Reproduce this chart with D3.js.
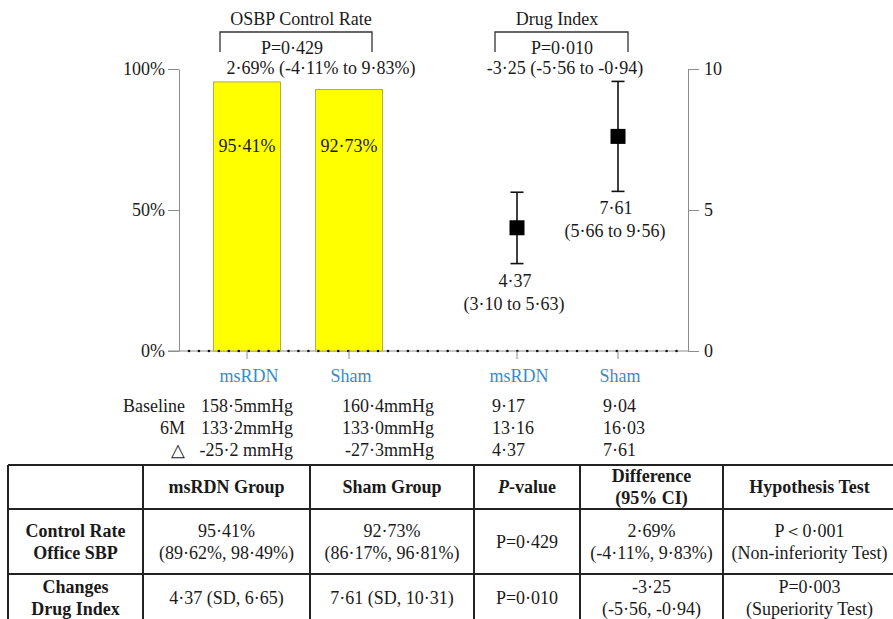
<!DOCTYPE html>
<html>
<head>
<meta charset="utf-8">
<script src="https://cdn.jsdelivr.net/npm/d3@7"></script>
<style>
  html, body { margin: 0; padding: 0; background: #fff; }
</style>
</head>
<body>
<svg id="chart" width="893" height="619"></svg>
<script>
// ---------------- DATA ----------------
const groups = ["msRDN", "Sham"];
const controlRate = [95.41, 92.73];               // % OSBP control rate
const controlRateLabels = ["95·41%", "92·73%"];
const drugMean = [4.37, 7.61];                    // change in drug index
const drugLow = [3.10, 5.66];
const drugHigh = [5.63, 9.56];
const drugMeanLabels = ["4·37", "7·61"];
const drugCILabels = ["(3·10 to 5·63)", "(5·66 to 9·56)"];
const leftTicks = [0, 50, 100];
const rightTicks = [0, 5, 10];

const panelTitles = ["OSBP Control Rate", "Drug Index"];
const panelP = ["P=0·429", "P=0·010"];
const panelDiff = ["2·69% (-4·11% to 9·83%)", "-3·25 (-5·56 to -0·94)"];

const summaryRowLabels = ["Baseline", "6M", "△"];
const sbpMsRDN = ["158·5mmHg", "133·2mmHg", "-25·2 mmHg"];
const sbpSham = ["160·4mmHg", "133·0mmHg", "-27·3mmHg"];
const drugMsRDN = ["9·17", "13·16", "4·37"];
const drugSham = ["9·04", "16·03", "7·61"];

const tableHeader = ["", "msRDN Group", "Sham Group", "P-value", "Difference\n(95% CI)", "Hypothesis Test"];
const tableRow1 = ["Control Rate\nOffice SBP", "95·41%\n(89·62%, 98·49%)", "92·73%\n(86·17%, 96·81%)", "P=0·429", "2·69%\n(-4·11%, 9·83%)", "P＜0·001\n(Non-inferiority Test)"];
const tableRow2 = ["Changes\nDrug Index", "4·37 (SD, 6·65)", "7·61 (SD, 10·31)", "P=0·010", "-3·25\n(-5·56, -0·94)", "P=0·003\n(Superiority Test)"];

// ---------------- LAYOUT ----------------
const FONT = '"Liberation Serif"';
const svg = d3.select("#chart").style("font-family", FONT);
const FS = 18;
const axisGray = "#8c8c8c";
const blue = "#3a8cc4";
const ink = "#1a1a1a";

const yTop = 69, yBot = 351;
const axLeftX = 179, axRightX = 688;

const yLeft = d3.scaleLinear().domain([0, 100]).range([yBot, yTop]);
const yRight = d3.scaleLinear().domain([0, 10]).range([yBot, yTop]);
const xBars = d3.scalePoint().domain(groups).range([247, 349]);
const xPts = d3.scalePoint().domain(groups).range([517, 618]);
const barW = 67;

function txt(sel) { return sel.style("font-family", FONT); }

// baseline (gray line with black dots)
svg.append("line").attr("x1", axLeftX - 11).attr("x2", axRightX)
  .attr("y1", yLeft(0)).attr("y2", yLeft(0))
  .attr("stroke", axisGray).attr("stroke-width", 1);

// bars
svg.selectAll("rect.bar").data(controlRate).join("rect")
  .attr("class", "bar")
  .attr("x", (d, i) => xBars(groups[i]) - barW / 2)
  .attr("width", barW)
  .attr("y", d => yLeft(d))
  .attr("height", d => yLeft(0) - yLeft(d))
  .attr("fill", "#ffff00")
  .attr("stroke", "#b5ac45").attr("stroke-width", 1);

svg.selectAll("text.barlab").data(controlRateLabels).join("text")
  .attr("class", "barlab")
  .attr("x", (d, i) => xBars(groups[i]))
  .attr("y", 152)
  .attr("text-anchor", "middle").attr("font-size", FS).attr("fill", ink)
  .style("font-family", FONT)
  .text(d => d);

// dots on baseline
const dotXs = d3.range(axLeftX + 10, axRightX - 2, 9.95);
svg.selectAll("circle.dot").data(dotXs).join("circle")
  .attr("class", "dot").attr("cx", d => d).attr("cy", yLeft(0))
  .attr("r", 1.3).attr("fill", "#111");

// left axis
const gL = svg.append("g").attr("transform", `translate(${axLeftX},0)`)
  .call(d3.axisLeft(yLeft).tickValues(leftTicks).tickSize(11).tickSizeOuter(0).tickFormat(d => d + "%"));
gL.attr("font-family", null).style("font-family", FONT);
gL.select(".domain").attr("stroke", axisGray);
gL.selectAll(".tick line").attr("stroke", axisGray);
gL.selectAll(".tick text").attr("font-size", FS).attr("fill", ink).attr("x", -14).style("font-family", FONT);

// right axis
const gR = svg.append("g").attr("transform", `translate(${axRightX},0)`)
  .call(d3.axisRight(yRight).tickValues(rightTicks).tickSize(11).tickSizeOuter(0));
gR.attr("font-family", null).style("font-family", FONT);
gR.select(".domain").attr("stroke", axisGray);
gR.selectAll(".tick line").attr("stroke", axisGray);
gR.selectAll(".tick text").attr("font-size", FS).attr("fill", ink).attr("x", 16).style("font-family", FONT);

// category ticks & labels
const catPos = groups.map(g => xBars(g)).concat(groups.map(g => xPts(g)));
const catNames = groups.concat(groups);
svg.selectAll("line.cattick").data(catPos).join("line")
  .attr("class", "cattick").attr("x1", d => d).attr("x2", d => d)
  .attr("y1", yBot).attr("y2", yBot + 8).attr("stroke", axisGray);
svg.selectAll("text.catlab").data(catNames).join("text")
  .attr("class", "catlab")
  .attr("x", (d, i) => catPos[i] + 2)
  .attr("y", 382)
  .attr("text-anchor", "middle").attr("font-size", FS).attr("fill", blue)
  .style("font-family", FONT)
  .text(d => d);

// error bars
const capW = 13;
groups.forEach((g, i) => {
  const x = xPts(g);
  const gg = svg.append("g").attr("stroke", "#111").attr("stroke-width", 1.6);
  gg.append("line").attr("x1", x).attr("x2", x).attr("y1", yRight(drugHigh[i])).attr("y2", yRight(drugLow[i]));
  gg.append("line").attr("x1", x - capW / 2).attr("x2", x + capW / 2).attr("y1", yRight(drugHigh[i])).attr("y2", yRight(drugHigh[i]));
  gg.append("line").attr("x1", x - capW / 2).attr("x2", x + capW / 2).attr("y1", yRight(drugLow[i])).attr("y2", yRight(drugLow[i]));
  svg.append("rect").attr("x", x - 7.5).attr("y", yRight(drugMean[i]) - 7.5)
    .attr("width", 15).attr("height", 15).attr("fill", "#000");
  txt(svg.append("text")).attr("x", x - 2).attr("y", yRight(drugLow[i]) + 23)
    .attr("text-anchor", "middle").attr("font-size", FS).attr("fill", ink).text(drugMeanLabels[i]);
  txt(svg.append("text")).attr("x", x - 3).attr("y", yRight(drugLow[i]) + 46)
    .attr("text-anchor", "middle").attr("font-size", FS).attr("fill", ink).text(drugCILabels[i]);
});

// panel titles with brackets
const panels = [
  { tx: 301, bl: xBars(groups[0]) - 27, br: xBars(groups[1]) + 23, px: 292, dx: 321 },
  { tx: 557, bl: xPts(groups[0]) - 22, br: xPts(groups[1]) + 10, px: 562, dx: 565 }
];
panels.forEach((p, i) => {
  txt(svg.append("text")).attr("x", p.tx).attr("y", 25).attr("text-anchor", "middle")
    .attr("font-size", FS).attr("fill", ink).text(panelTitles[i]);
  svg.append("path").attr("d", `M${p.bl},52V32H${p.br}V52`)
    .attr("fill", "none").attr("stroke", "#333").attr("stroke-width", 1.3);
  txt(svg.append("text")).attr("x", p.px).attr("y", 54).attr("text-anchor", "middle")
    .attr("font-size", FS).attr("fill", ink).text(panelP[i]);
  txt(svg.append("text")).attr("x", p.dx).attr("y", 74).attr("text-anchor", "middle")
    .attr("font-size", FS).attr("fill", ink).text(panelDiff[i]);
});

// summary rows
const rowYs = [412, 434, 456];
summaryRowLabels.forEach((lab, r) => {
  const y = rowYs[r];
  const add = (x, anchor, s) => txt(svg.append("text")).attr("x", x).attr("y", y)
    .attr("text-anchor", anchor).attr("font-size", FS).attr("fill", ink).text(s);
  add(185, "end", lab);
  add(293, "end", sbpMsRDN[r]);
  add(434, "end", sbpSham[r]);
  add(492, "start", drugMsRDN[r]);
  add(603, "start", drugSham[r]);
});

// table
const colX = [8, 143, 310, 474, 580, 723, 896];
const rowY = [465, 509, 574, 640];
const rows = [tableHeader, tableRow1, tableRow2];
const tg = svg.append("g");
rows.forEach((row, r) => {
  row.forEach((cell, c) => {
    const cx = (colX[c] + colX[c + 1]) / 2;
    const cy = (rowY[r] + rowY[r + 1]) / 2;
    const lines = cell.split("\n");
    const bold = r === 0 || c === 0;
    const lh = 22;
    const rowCy = r === 2 ? 598 : cy;
    lines.forEach((ln, k) => {
      const t = txt(tg.append("text")).attr("x", cx)
        .attr("y", rowCy + (k - (lines.length - 1) / 2) * lh + 6)
        .attr("text-anchor", "middle").attr("font-size", FS)
        .attr("font-weight", bold ? "bold" : "normal").attr("fill", ink);
      if (ln === "P-value") {
        t.append("tspan").attr("font-style", "italic").text("P");
        t.append("tspan").text("-value");
      } else {
        t.text(ln);
      }
    });
  });
});
rowY.slice(0, 3).forEach(y => {
  tg.append("line").attr("x1", colX[0]).attr("x2", colX[6]).attr("y1", y).attr("y2", y)
    .attr("stroke", "#222").attr("stroke-width", 2);
});
colX.forEach(x => {
  tg.append("line").attr("x1", x).attr("x2", x).attr("y1", rowY[0]).attr("y2", 619)
    .attr("stroke", "#222").attr("stroke-width", 2);
});
</script>
</body>
</html>
